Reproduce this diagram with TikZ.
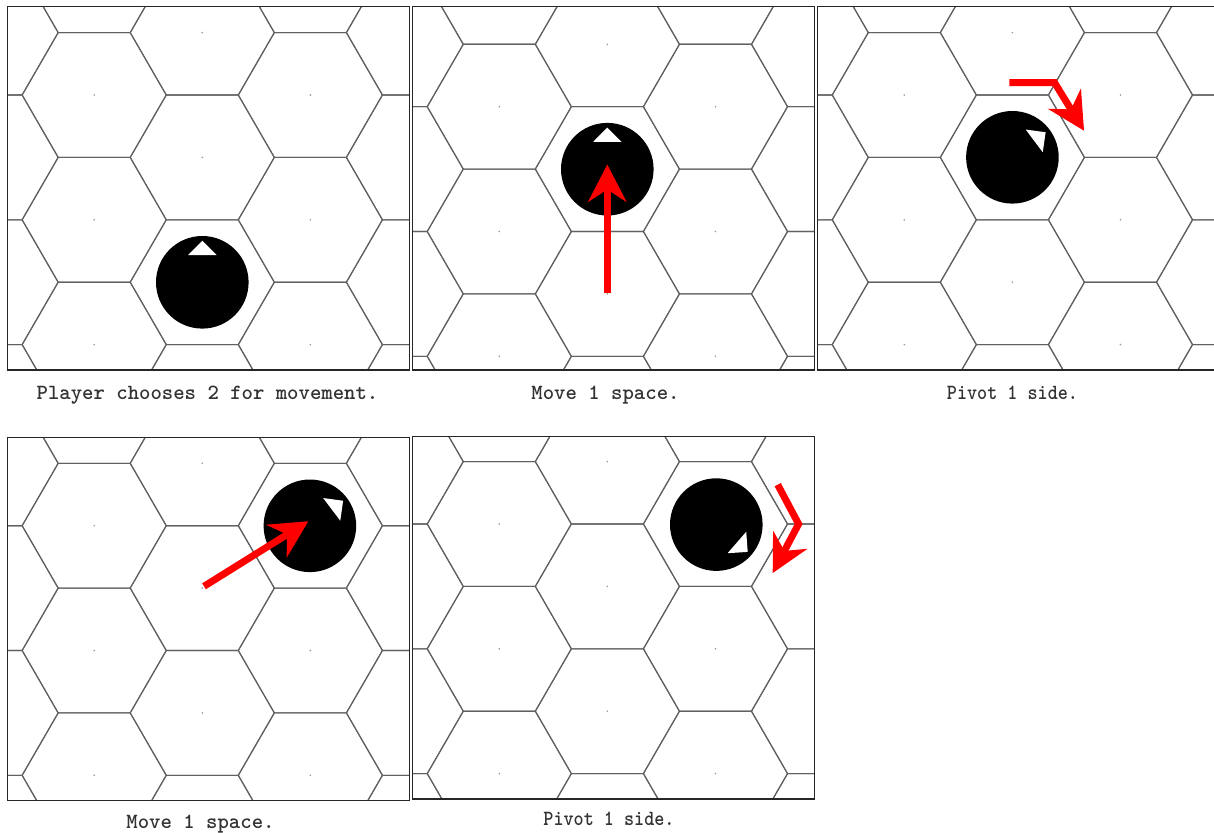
\documentclass[tikz,border=0pt]{standalone}
\usepackage{fontspec}
\usepackage{graphicx}
\usetikzlibrary{arrows.meta}
\newcommand\hexgrid[2]{%
  \foreach \c in {-1,...,4}{%
    \foreach \r in {-1,...,3}{%
      \pgfmathsetmacro\hx{#1+108.08*\c}%
      \pgfmathsetmacro\hy{#2+124.8*\r-62.4*mod(abs(\c),2)}%
      \draw[hexline] (\hx+72.05,\hy) -- ++(-36.03,-62.4) -- ++(-72.05,0) -- ++(-36.03,62.4) -- ++(36.03,62.4) -- ++(72.05,0) -- cycle;
      \fill[hexdot] (\hx,\hy) circle[radius=0.9];
    }}}
\newcommand\boardpanel[6]{%
  \begin{scope}
    \clip (#1,#2) rectangle (#3,#4);
    \hexgrid{#5}{#6}
  \end{scope}
  \draw[panelbox] (#1,#2) rectangle (#3,#4);}
\newcommand\tokenat[4]{%
  \node[token] (#1) at (#2,#3) {};
  \fill[facing, shift={(#2,#3)}, rotate=#4] (0,-41.6) -- (-14.2,-27.3) -- (14.2,-27.3) -- cycle;}
\begin{document}
\begin{tikzpicture}[x=1pt,y=-1pt,
  hexline/.style={draw=black!62, line width=1.1pt, line join=miter},
  hexdot/.style={fill=black!40},
  panelbox/.style={draw=black!85, line width=1.4pt},
  token/.style={circle, fill=black, minimum size=92.6pt, inner sep=0pt},
  facing/.style={fill=white},
  redarrow/.style={draw=red, line width=7pt, line join=miter, -{Stealth[length=37.7pt,width=39pt,inset=12.7pt,line width=0pt]}},
  captext/.style={font=\fontsize{21.7pt}{26pt}\selectfont\ttfamily\bfseries, anchor=base, inner sep=0pt, text=black!80}
]
\useasboundingbox (0,0) rectangle (1214,832);
\fill[white] (0,0) rectangle (1214,832);

% panels
\boardpanel{7.7}{6.7}{409.3}{370}{94.2}{95}
\boardpanel{412.3}{6.7}{814.3}{370}{499.3}{106.7}
\boardpanel{817.3}{6.7}{1224}{370}{904.3}{95}
\boardpanel{7.3}{437.3}{409.3}{800.7}{94.2}{525.7}
\boardpanel{412.3}{436.3}{814.3}{799}{499.3}{524}

% tokens
\tokenat{t1}{202.3}{282.3}{0}
\tokenat{t2}{607.3}{169.2}{0}
\tokenat{t3}{1012.4}{157.3}{-53}
\tokenat{t4}{309.9}{525.8}{-53}
\tokenat{t5}{716.3}{524.6}{-131}

% arrows
\coordinate (a2s) at (607.3,293.3);
\coordinate (a2e) at (607.3,164.5);
\draw[redarrow] (a2s) -- (a2e);

\coordinate (a3s) at (1009.3,82.7);
\coordinate (a3b) at (1054.6,82.7);
\coordinate (a3e) at (1084,130.7);
\draw[redarrow] (a3s) -- (a3b) -- (a3e);

\coordinate (a4s) at (204,586.3);
\coordinate (a4e) at (308.3,521.3);
\draw[redarrow] (a4s) -- (a4e);

\coordinate (a5s) at (777.7,484.7);
\coordinate (a5b) at (798.6,524);
\coordinate (a5e) at (772.7,573);
\draw[redarrow] (a5s) -- (a5b) -- (a5e);

% captions
\node[captext] (cap1) at (207.5,399) {Player chooses 2 for movement.};
\node[captext] (cap2) at (605.5,399) {Move 1 space.};
\node[captext] (cap3) at (1012.5,399) {\scalebox{0.885}[1]{Pivot 1 side.}};
\node[captext] (cap4) at (200.5,828) {Move 1 space.};
\node[captext] (cap5) at (609,825.5) {\scalebox{0.885}[1]{Pivot 1 side.}};
\end{tikzpicture}
\end{document}
